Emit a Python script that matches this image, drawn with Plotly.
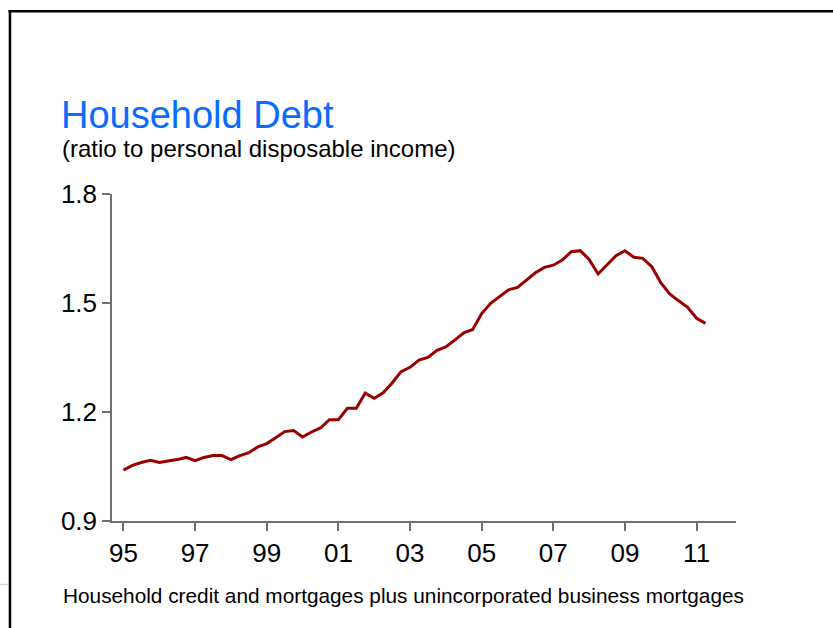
import plotly.graph_objects as go

# ---- data (quarterly, 1995Q1 - 2011Q2) ----
years = list(range(1995, 2012))
quarters = [y + q * 0.25 for y in years for q in range(4)][:66]
debt_ratio = [
    1.040, 1.053, 1.061, 1.067,
    1.061, 1.064, 1.069, 1.075,
    1.066, 1.075, 1.080, 1.080,
    1.069, 1.080, 1.088, 1.104,
    1.113, 1.129, 1.146, 1.149,
    1.131, 1.145, 1.156, 1.179,
    1.179, 1.210, 1.210, 1.252,
    1.238, 1.253, 1.280, 1.311,
    1.323, 1.343, 1.350, 1.370,
    1.379, 1.398, 1.418, 1.427,
    1.471, 1.499, 1.517, 1.536,
    1.543, 1.563, 1.583, 1.598,
    1.604, 1.618, 1.641, 1.644,
    1.620, 1.580, 1.604, 1.630,
    1.644, 1.626, 1.623, 1.600,
    1.556, 1.525, 1.506, 1.488,
    1.458, 1.444,
]
x_tick_vals = [1995, 1997, 1999, 2001, 2003, 2005, 2007, 2009, 2011]
x_tick_text = ["95", "97", "99", "01", "03", "05", "07", "09", "11"]
y_tick_vals = [0.9, 1.2, 1.5, 1.8]
y_tick_text = ["0.9", "1.2", "1.5", "1.8"]

title = "Household Debt"
subtitle = "(ratio to personal disposable income)"
footnote = "Household credit and mortgages plus unincorporated business mortgages"

# ---- layout geometry (pixels) ----
W, H = 833, 628
L, R, T, B = 111.6, 97, 194, 107.3
PW, PH = W - L - R, H - T - B


def px(xp):
    return (xp - L) / PW


def py(yp):
    return 1 - (yp - T) / PH


FONT = "Liberation Sans, Arial, sans-serif"

fig = go.Figure()
fig.add_trace(go.Scatter(
    x=quarters, y=debt_ratio, mode="lines",
    line=dict(color="#990000", width=3),
    showlegend=False, hoverinfo="x+y",
))

axis_common = dict(
    showgrid=False, zeroline=False, showline=True,
    linecolor="#707070", linewidth=1.5,
    ticks="outside", ticklen=8, tickwidth=1.5, tickcolor="#707070",
    tickfont=dict(family=FONT, size=26, color="#000000"),
)

fig.update_xaxes(range=[1994.68, 2012.1], tickmode="array",
                 tickvals=x_tick_vals, ticktext=x_tick_text, **axis_common)
fig.update_yaxes(range=[0.9, 1.8], tickmode="array",
                 tickvals=y_tick_vals, ticktext=y_tick_text, **axis_common)

annotations = [
    dict(text=title, x=px(59), y=py(115), xref="paper", yref="paper",
         xanchor="left", yanchor="middle", showarrow=False,
         font=dict(family=FONT, size=38, color="#0a6cff")),
    dict(text=subtitle, x=px(60), y=py(149), xref="paper", yref="paper",
         xanchor="left", yanchor="middle", showarrow=False,
         font=dict(family=FONT, size=24, color="#000000")),
    dict(text=footnote, x=px(61), y=py(595), xref="paper", yref="paper",
         xanchor="left", yanchor="middle", showarrow=False,
         font=dict(family=FONT, size=20.8, color="#000000")),
]

shapes = [
    dict(type="line", xref="paper", yref="paper",
         x0=px(8), x1=px(W + 5), y0=py(11.5), y1=py(11.5),
         line=dict(color="#000000", width=2.5)),
    dict(type="line", xref="paper", yref="paper",
         x0=px(9.5), x1=px(9.5), y0=py(10.5), y1=py(H + 5),
         line=dict(color="#000000", width=2.5)),
    dict(type="line", xref="paper", yref="paper",
         x0=px(0), x1=px(8), y0=py(584), y1=py(584),
         line=dict(color="#c8c8c8", width=1)),
]

fig.update_layout(
    width=W, height=H,
    margin=dict(l=L, r=R, t=T, b=B, pad=0),
    paper_bgcolor="#ffffff", plot_bgcolor="#ffffff",
    annotations=annotations, shapes=shapes,
    font=dict(family=FONT),
)

fig.write_html("out.html")
